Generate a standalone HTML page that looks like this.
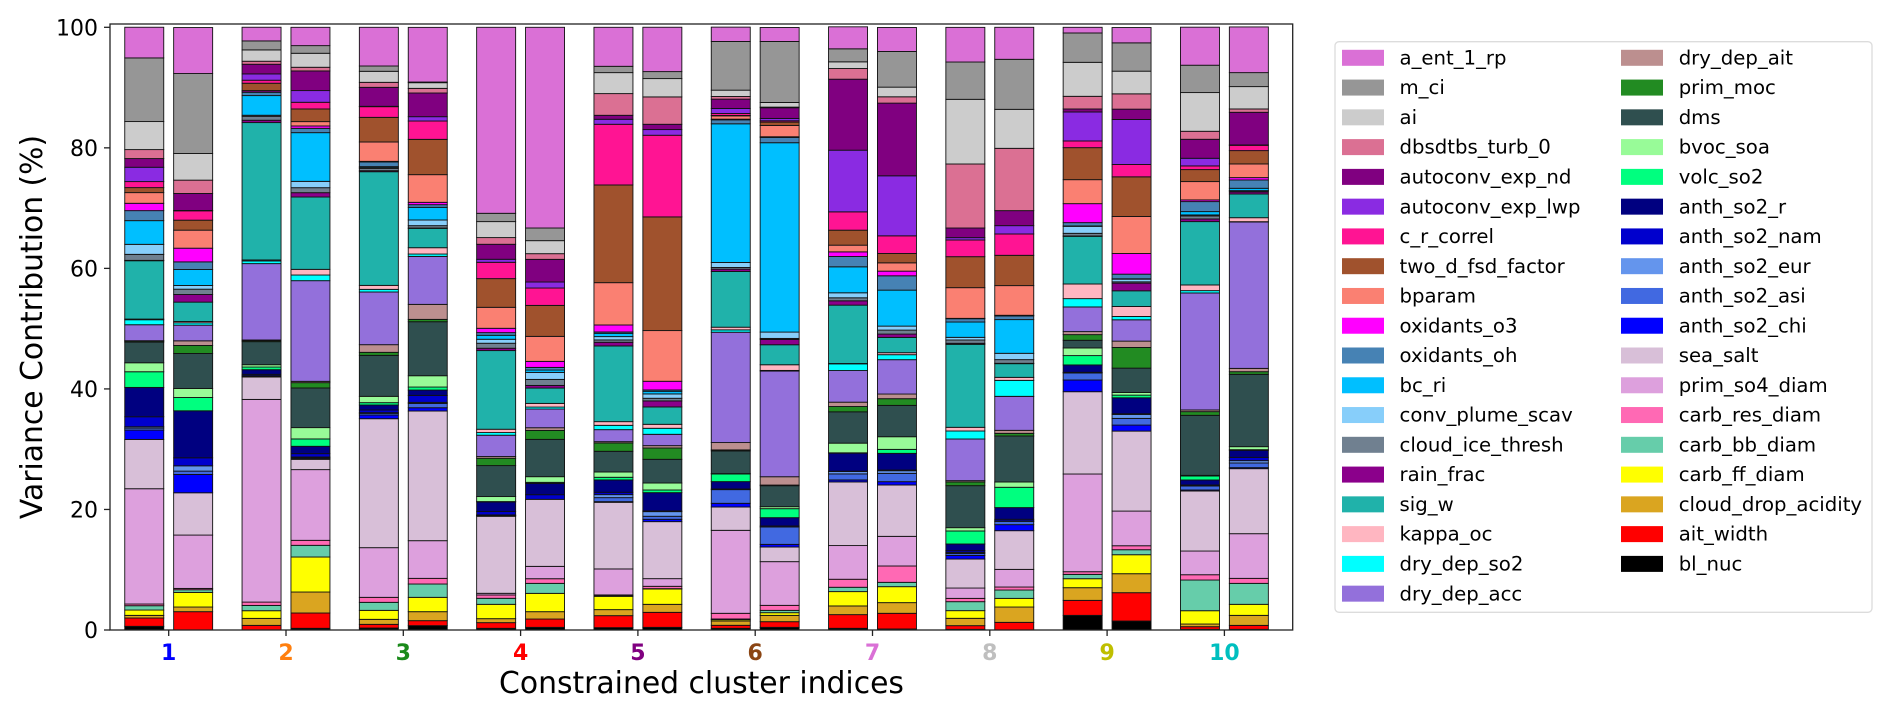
<!DOCTYPE html>
<html lang="en">
<head>
<meta charset="utf-8">
<title>Variance Contribution by Constrained Cluster</title>
<style>
html,body{margin:0;padding:0;background:#fff;}
svg{display:block;font-family:"DejaVu Sans","Liberation Sans",sans-serif;}
</style>
</head>
<body>
<svg id="chart" xmlns="http://www.w3.org/2000/svg" width="1892" height="713" viewBox="0 0 1892 713">
  <rect x="0" y="0" width="1892" height="713" fill="#ffffff"/>
  <g id="bars"></g>
  <rect x="110" y="24" width="1182.7" height="606" fill="none" stroke="#222" stroke-width="1.3"/>
  <g id="yaxis"></g>
  <g id="xaxis"></g>
  <text transform="translate(42,327) rotate(-90)" text-anchor="middle" font-size="29.8" fill="#000">Variance Contribution (%)</text>
  <text x="701.5" y="693" text-anchor="middle" font-size="29.8" fill="#000">Constrained cluster indices</text>
  <g id="legend">
    <rect x="1335" y="41.7" width="537" height="570.6" rx="4" ry="4" fill="#fff" stroke="#dcdcdc" stroke-width="1.3"/>
  </g>
</svg>
<script>
// Parameter names, listed from the top of each stack to the bottom
const parameterNames = ["a_ent_1_rp","m_ci","ai","dbsdtbs_turb_0","autoconv_exp_nd","autoconv_exp_lwp","c_r_correl","two_d_fsd_factor","bparam","oxidants_o3","oxidants_oh","bc_ri","conv_plume_scav","cloud_ice_thresh","rain_frac","sig_w","kappa_oc","dry_dep_so2","dry_dep_acc","dry_dep_ait","prim_moc","dms","bvoc_soa","volc_so2","anth_so2_r","anth_so2_nam","anth_so2_eur","anth_so2_asi","anth_so2_chi","sea_salt","prim_so4_diam","carb_res_diam","carb_bb_diam","carb_ff_diam","cloud_drop_acidity","ait_width","bl_nuc"];
const parameterColors = ["#DA70D6","#969696","#CCCCCC","#DB7093","#800080","#8A2BE2","#FF1493","#A0522D","#FA8072","#FF00FF","#4682B4","#00BFFF","#87CEFA","#708090","#8B008B","#20B2AA","#FFB6C1","#00FFFF","#9370DB","#BC8F8F","#228B22","#2F4F4F","#98FB98","#00FF7F","#000080","#0000CD","#6495ED","#4169E1","#0000FF","#D8BFD8","#DDA0DD","#FF69B4","#66CDAA","#FFFF00","#DAA520","#FF0000","#000000"];

const clusterLabels = ["1","2","3","4","5","6","7","8","9","10"];
const clusterLabelColors = ["#0000FF","#FF7F0E","#1A8A1A","#FF0000","#800080","#8B4513","#DA70D6","#BFBFBF","#BFBF00","#00BFBF"];
const yTicks = [0,20,40,60,80,100];

// Variance contribution (%) per parameter, one array per bar
const cluster1Left   = [5.09,10.56,4.65,1.49,1.44,2.38,1.00,.83,1.77,1.22,1.66,3.93,1.66,1.00,.06,9.68,.11,.83,2.65,.06,.17,3.43,1.49,2.60,4.87,1.66,.22,.33,1.55,8.18,19.13,.28,.72,.88,.44,1.38,.61];
const cluster1Right  = [7.63,13.27,4.42,2.21,2.82,.06,1.55,1.66,2.99,2.27,1.27,2.65,.61,.88,1.27,3.21,.22,.39,2.60,.77,1.33,5.81,1.49,2.21,7.80,1.33,.88,.55,3.04,7.02,8.85,.22,.44,2.43,.77,3.04,0];
const cluster2Left   = [2.27,1.49,1.88,.50,1.60,1.05,.50,1.22,.06,.22,.55,3.26,.17,.66,.39,22.79,.17,.44,12.67,.11,.17,3.82,.39,.44,.77,.22,.06,.06,.11,3.71,33.63,.55,.88,1.27,1.16,.77,0];
const cluster2Right  = [3.04,1.27,2.32,.61,3.26,1.94,1.11,2.10,.72,.39,.72,8.08,1.05,.83,.72,12.00,.94,.94,16.70,.22,.88,6.58,1.88,1.22,1.22,.55,.11,.11,.17,1.71,11.73,.83,1.94,5.81,3.48,2.54,.28];
const cluster3Left   = [6.42,.88,1.83,.83,3.15,.06,1.77,4.09,3.21,.11,.77,.17,.11,.39,.17,18.86,.66,.44,8.74,1.27,.50,6.80,1.05,.39,.83,.44,.11,.28,.61,21.40,8.24,.83,1.33,1.49,.83,.61,.33];
const cluster3Right  = [9.07,.11,.94,.77,3.93,.72,3.04,5.86,4.59,.39,.44,2.10,.94,.39,.06,3.21,1.05,.39,7.96,2.49,.39,8.96,1.88,.50,.88,1.16,.17,.72,.55,21.51,6.25,.94,2.21,2.38,1.49,.83,.72];
const cluster4Left   = [30.86,1.38,2.65,1.11,2.49,.50,2.71,4.76,3.48,.72,.44,.66,.66,.83,.39,13.05,.55,.44,3.54,.28,1.22,5.14,.83,.06,1.60,.55,.06,.06,.11,12.78,.28,.55,1.00,2.38,.66,.94,.28];
const cluster4Right  = [33.30,2.10,2.16,.94,3.76,1.00,2.88,5.14,4.15,1.00,.44,.39,1.16,1.00,.44,2.54,.61,.33,3.10,.44,1.49,6.19,.94,.17,1.88,.77,0,0,0,11.12,2.05,.77,1.66,3.04,1.22,1.38,.44];
const cluster5Left   = [6.47,1.05,3.48,3.60,.66,.83,10.07,16.21,7.02,1.16,.22,.55,.55,.39,.61,12.56,.61,.72,1.99,.22,1.38,3.43,.88,.44,2.05,.39,.50,.66,.11,11.06,4.31,.17,.06,2.21,1.00,1.99,.39];
const cluster5Right  = [7.36,1.16,3.04,4.54,.88,.94,13.55,18.86,8.41,1.44,.22,.44,.72,.44,1.00,2.88,.66,1.00,1.88,.39,1.88,3.93,1.16,.44,3.04,.11,.77,.50,.39,9.46,1.27,.39,.06,2.54,1.33,2.49,.44];
const cluster6Left   = [2.38,8.08,1.05,.44,1.55,.83,.33,.06,.55,.11,.66,23.01,.83,.28,.39,9.24,.44,.39,18.31,1.22,.17,3.76,.06,1.27,1.22,.11,0,2.27,.61,3.87,13.77,.94,.11,.22,.72,.50,.28];
const cluster6Right  = [2.32,10.12,.77,.11,1.77,.39,.22,.55,1.88,.11,.88,31.42,1.05,.17,.88,3.32,.94,.11,17.53,1.38,.11,3.48,.33,1.49,1.38,.17,0,2.88,.44,2.43,7.25,.83,.39,.44,1.05,.94,.44];
const cluster7Left   = [3.65,2.16,1.11,1.77,11.78,10.23,3.04,2.49,1.11,.77,1.71,4.31,.83,.50,.72,9.68,.06,1.11,5.25,.72,.88,5.20,1.60,.06,2.99,.06,.39,1.00,.33,10.56,5.59,1.33,.72,2.38,1.44,2.27,.28];
const cluster7Right  = [3.98,5.92,1.60,1.05,12.06,9.96,2.93,1.55,1.38,.77,2.38,5.97,.66,.66,.55,2.54,.33,.83,5.70,.77,1.11,5.20,2.10,.66,2.77,.11,.44,1.38,.55,8.52,4.92,2.71,.72,2.65,1.77,2.60,.17];
const cluster8Left   = [5.75,6.19,10.73,10.62,1.60,.39,2.77,5.14,5.09,.06,.55,2.54,.44,.55,.17,13.77,.61,1.33,6.91,.22,.61,6.97,.55,2.16,1.11,.28,.17,.33,.61,4.81,1.71,.55,1.49,1.27,1.22,.61,.11];
const cluster8Right  = [5.31,8.30,6.47,10.34,2.49,1.38,3.54,5.03,4.92,.11,.61,5.59,1.05,.61,.06,2.27,.50,2.65,5.64,.50,.44,7.63,.88,3.37,1.94,.28,.06,.55,1.00,6.42,2.93,.50,1.38,1.44,2.54,1.27,0];
const cluster9Left   = [.94,4.87,5.64,2.10,.50,4.81,1.11,5.31,3.98,3.15,.55,.06,1.16,.44,.06,7.91,2.43,1.38,4.09,.50,.94,1.27,1.27,1.55,1.22,.06,.06,1.16,1.94,13.66,16.21,.44,.72,1.49,2.10,2.49,2.43];
const cluster9Right  = [2.54,4.70,3.76,2.54,1.71,7.47,2.05,6.58,6.14,3.43,.77,.06,.44,.22,1.27,2.60,1.66,.55,3.54,1.05,3.43,4.04,.44,.44,2.65,.11,.66,1.11,1.00,13.27,5.75,.66,.83,3.15,3.15,4.70,1.49];
const cluster10Left  = [6.31,4.54,6.42,1.33,3.15,1.27,.61,1.99,3.04,.28,1.66,.55,.17,.50,.44,10.51,.94,.39,19.41,.28,.61,9.96,.11,.66,.83,.11,.06,.66,.17,9.96,3.93,.88,5.09,2.21,.44,.44,.11];
const cluster10Right = [7.58,2.32,3.71,.55,5.42,.06,.88,2.21,2.27,.39,1.38,.39,.06,.17,.33,3.93,.66,.06,24.28,.55,.44,12.00,.50,.11,1.16,.55,.39,.77,.17,10.79,7.41,.83,3.48,1.83,1.66,.66,.11];

const clusterLeftBars  = [cluster1Left,cluster2Left,cluster3Left,cluster4Left,cluster5Left,cluster6Left,cluster7Left,cluster8Left,cluster9Left,cluster10Left];
const clusterRightBars = [cluster1Right,cluster2Right,cluster3Right,cluster4Right,cluster5Right,cluster6Right,cluster7Right,cluster8Right,cluster9Right,cluster10Right];

const SVGNS = "http://www.w3.org/2000/svg";
function xScale(i){ return 168.7 + 117.3 * i; }
function yScale(v){ return 630 - 6.027 * v; }
const BAR_WIDTH = 39;
const BAR_OFFSET = 24.45;

const barsGroup = document.getElementById("bars");
function drawBar(values, centerX){
  let cumulative = 0;
  for (let p = values.length - 1; p >= 0; p--) {
    const v = values[p];
    if (v <= 0) continue;
    const seg = document.createElementNS(SVGNS, "rect");
    
    
    seg.setAttribute("x", centerX - BAR_WIDTH / 2);
    seg.setAttribute("y", yScale(cumulative + v));
    seg.setAttribute("width", BAR_WIDTH);
    seg.setAttribute("height", yScale(cumulative) - yScale(cumulative + v));
    seg.setAttribute("fill", parameterColors[p]);
    seg.setAttribute("stroke", "#111");
    seg.setAttribute("stroke-width", "0.9");
    barsGroup.appendChild(seg);
    cumulative += v;
  }
}
clusterLabels.forEach(function(lbl, i){
  drawBar(clusterLeftBars[i], xScale(i) - BAR_OFFSET);
  drawBar(clusterRightBars[i], xScale(i) + BAR_OFFSET);
});

const yAxis = document.getElementById("yaxis");
yTicks.forEach(function(t){
  const tick = document.createElementNS(SVGNS, "line");
  
  
  tick.setAttribute("x1", 104); tick.setAttribute("x2", 110);
  tick.setAttribute("y1", yScale(t)); tick.setAttribute("y2", yScale(t));
  tick.setAttribute("stroke", "#222"); tick.setAttribute("stroke-width", "1.3");
  yAxis.appendChild(tick);
  const label = document.createElementNS(SVGNS, "text");
  
  
  label.setAttribute("x", 98); label.setAttribute("y", yScale(t) + 8);
  label.setAttribute("text-anchor", "end");
  label.setAttribute("font-size", "22");
  label.setAttribute("fill", "#000");
  label.textContent = t;
  yAxis.appendChild(label);
});

const xAxis = document.getElementById("xaxis");
clusterLabels.forEach(function(lbl, i){
  const tick = document.createElementNS(SVGNS, "line");
  
  
  tick.setAttribute("x1", xScale(i)); tick.setAttribute("x2", xScale(i));
  tick.setAttribute("y1", 630); tick.setAttribute("y2", 636);
  tick.setAttribute("stroke", "#222"); tick.setAttribute("stroke-width", "1.3");
  xAxis.appendChild(tick);
  const label = document.createElementNS(SVGNS, "text");
  
  
  label.setAttribute("x", xScale(i)); label.setAttribute("y", 660);
  label.setAttribute("text-anchor", "middle");
  label.setAttribute("font-size", "22");
  label.setAttribute("font-weight", "bold");
  label.setAttribute("fill", clusterLabelColors[i]);
  label.textContent = lbl;
  xAxis.appendChild(label);
});

const legend = document.getElementById("legend");
const LEGEND_ROWS = 19;
parameterNames.forEach(function(name, i){
  const col = i < LEGEND_ROWS ? 0 : 1;
  const row = col === 0 ? i : i - LEGEND_ROWS;
  const cy = 57.8 + 29.77 * row;
  const swatch = document.createElementNS(SVGNS, "rect");
  
  
  swatch.setAttribute("x", col === 0 ? 1342 : 1621);
  swatch.setAttribute("y", cy - 8);
  swatch.setAttribute("width", 42);
  swatch.setAttribute("height", 16);
  swatch.setAttribute("fill", parameterColors[i]);
  legend.appendChild(swatch);
  const label = document.createElementNS(SVGNS, "text");
  
  
  label.setAttribute("x", col === 0 ? 1399.5 : 1678.7);
  label.setAttribute("y", cy + 6.6);
  label.setAttribute("font-size", "19.7");
  label.setAttribute("fill", "#000");
  label.textContent = name;
  legend.appendChild(label);
});
</script>
</body>
</html>
